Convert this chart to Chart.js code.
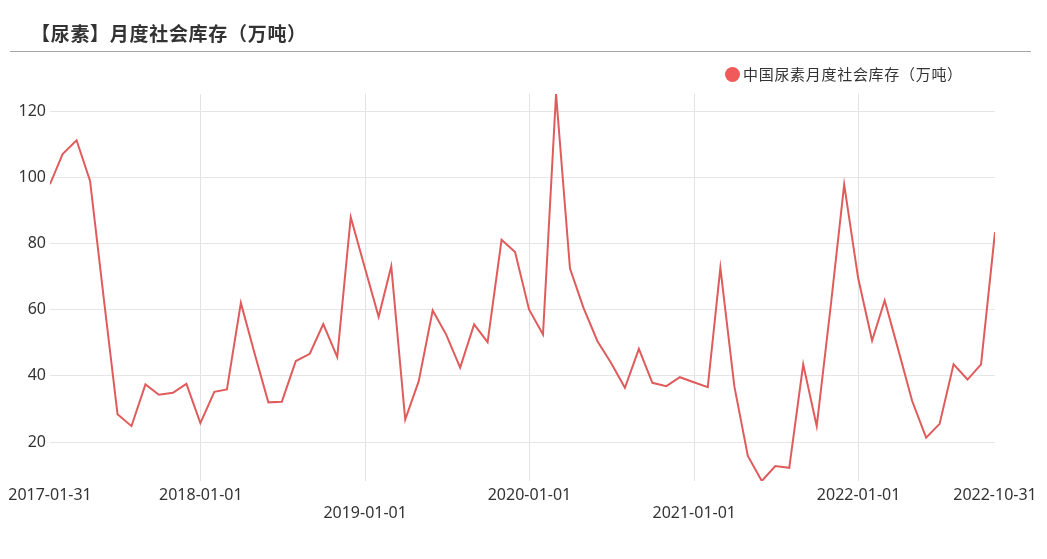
<!DOCTYPE html>
<html>
<head>
<meta charset="utf-8">
<script src="https://cdn.jsdelivr.net/npm/chart.js@4/dist/chart.umd.min.js"></script>
<style>
  html, body { margin: 0; padding: 0; background: #fff; }
  #wrap { position: relative; width: 1047px; height: 559px; overflow: hidden; }
  #chart { position: absolute; left: 0; top: 0; }
  #title {
    position: absolute; left: 31px; top: 19px; line-height: 26px; letter-spacing: 0.7px;
    font: bold 19px "Noto Sans CJK SC", sans-serif; color: #333;
  }
  #rule { position: absolute; left: 10px; top: 51px; width: 1021px; height: 1px; background: #a6a6a6; }
  #legend {
    position: absolute; left: 725px; top: 63px; line-height: 20px; letter-spacing: 0.7px;
    font: 15px "Noto Sans CJK SC", sans-serif; color: #333; white-space: nowrap;
  }
  #legend .dot {
    display: inline-block; width: 15px; height: 15px; border-radius: 50%;
    background: #f05a5a; vertical-align: -2px; margin-right: 3px;
  }
</style>
</head>
<body>
<div id="wrap">
  <canvas id="chart" width="1047" height="559"></canvas>
  <div id="title">【尿素】月度社会库存（万吨）</div>
  <div id="rule"></div>
  <div id="legend"><span class="dot"></span>中国尿素月度社会库存（万吨）</div>
</div>
<script>
// month-end dates, 2017-01 .. 2022-10
const months = [];
for (let y = 2017; y <= 2022; y++) {
  for (let m = 1; m <= 12; m++) {
    if (y === 2022 && m > 10) break;
    const last = new Date(Date.UTC(y, m, 0)).getUTCDate();
    months.push(`${y}-${String(m).padStart(2, "0")}-${last}`);
  }
}

const seriesName = "中国尿素月度社会库存（万吨）";
const stock = [
  98.0, 107.1, 111.3, 99.0, 62.8, 28.4, 24.8, 37.4, 34.3, 34.9, 37.6, 25.7,
  35.2, 35.9, 62.1, 47.0, 32.0, 32.2, 44.5, 46.7, 55.7, 45.7, 88.0, 72.9,
  57.9, 73.2, 26.8, 38.4, 59.8, 52.5, 42.5, 55.6, 50.2, 81.2, 77.5, 60.1,
  52.5, 125.3, 72.5, 60.6, 50.5, 44.0, 36.4, 48.2, 37.9, 36.9, 39.6, 38.1,
  36.6, 72.7, 36.9, 15.8, 8.2, 12.7, 12.2, 43.5, 24.8, 61.0, 97.9, 69.6,
  50.7, 62.8, 47.5, 32.4, 21.3, 25.5, 43.5, 38.9, 43.5, 83.5
];

const xTickDates = ["2017-01-31", "2018-01-01", "2019-01-01", "2020-01-01", "2021-01-01", "2022-01-01", "2022-10-31"];
const xTickLowerRow = ["2019-01-01", "2021-01-01"];
const yTickValues = [20, 40, 60, 80, 100, 120];

const dayNum = (s) => Date.parse(s + "T00:00:00Z") / 86400000;
const dayToStr = (d) => new Date(d * 86400000).toISOString().slice(0, 10);

const points = months.map((d, i) => ({ x: dayNum(d), y: stock[i] }));
const tickFont = { family: "'Noto Sans', sans-serif", size: 16, lineHeight: 1.1 };

new Chart(document.getElementById("chart"), {
  type: "line",
  data: {
    datasets: [
      {
        label: seriesName,
        data: points,
        borderColor: "#e05c5c",
        borderWidth: 2,
        pointRadius: 0,
        tension: 0,
        fill: false,
      },
    ],
  },
  options: {
    responsive: false,
    animation: false,
    layout: { padding: { top: 94, left: 0, right: 52, bottom: 0 } },
    plugins: {
      legend: { display: false },
      tooltip: { enabled: false },
    },
    scales: {
      x: {
        type: "linear",
        min: dayNum(months[0]),
        max: dayNum(months[months.length - 1]),
        afterBuildTicks: (axis) => {
          axis.ticks = xTickDates.map((d) => ({ value: dayNum(d) }));
        },
        afterFit: (scale) => { scale.height = 78; },
        border: { display: false },
        grid: {
          drawTicks: false,
          color: (ctx) =>
            ctx.index === 0 || ctx.index === xTickDates.length - 1 ? "transparent" : "#e3e3e3",
        },
        ticks: {
          autoSkip: false,
          maxRotation: 0,
          padding: 6,
          color: "#333",
          font: tickFont,
          callback: (v) => {
            const s = dayToStr(v);
            return xTickLowerRow.includes(s) ? ["", s] : s;
          },
        },
      },
      y: {
        min: Math.min(...stock),
        max: Math.max(...stock),
        afterBuildTicks: (axis) => {
          axis.ticks = yTickValues.map((v) => ({ value: v }));
        },
        afterFit: (scale) => { scale.width = 50; },
        border: { display: false },
        grid: { drawTicks: false, color: "#e6e6e6" },
        ticks: { padding: 4, color: "#333", font: tickFont },
      },
    },
  },
});
</script>
</body>
</html>
